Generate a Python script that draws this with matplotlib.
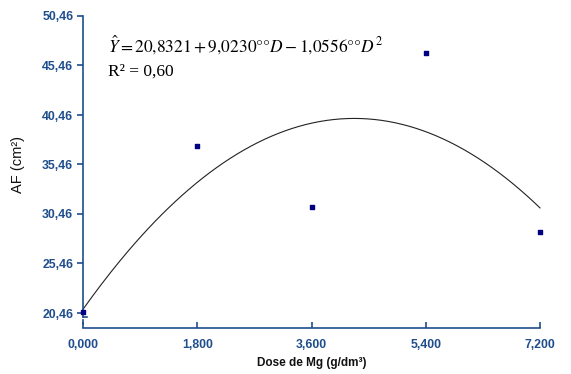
import numpy as np
import matplotlib
matplotlib.use("Agg")
import matplotlib.pyplot as plt

# dados observados
dose = [0.0, 1.8, 3.6, 5.4, 7.2]
af = [20.55, 37.35, 31.15, 46.7, 28.65]

# coeficientes da regressão quadrática
coef = [20.8321, 9.0230, -1.0556]
r2 = 0.60

x_ticks = [0.0, 1.8, 3.6, 5.4, 7.2]
y_ticks = [20.46, 25.46, 30.46, 35.46, 40.46, 45.46, 50.46]

blue = '#1F4E8C'
plt.rcParams['font.family'] = ['Liberation Sans', 'DejaVu Sans']
plt.rcParams['mathtext.fontset'] = 'stix'

fig = plt.figure(figsize=(5.71, 3.74), dpi=100)
ax = fig.add_axes([83 / 571, 61 / 374, 457 / 571, 297 / 374])

# curva ajustada
xx = np.linspace(0, 7.2, 200)
yy = coef[0] + coef[1] * xx + coef[2] * xx ** 2
ax.plot(xx, yy, color='#222222', lw=0.8, clip_on=False)

ax.scatter(dose, af, marker='s', s=7, color='#000080', zorder=3, clip_on=False)

ax.set_xlim(0, 7.2)
ax.set_ylim(20.46, 50.46)
ax.set_xticks(x_ticks)
ax.set_xticklabels([f'{v:.3f}'.replace('.', ',') for v in x_ticks])
ax.set_yticks(y_ticks)
ax.set_yticklabels([f'{v:.2f}'.replace('.', ',') for v in y_ticks])

for s in ['top', 'right']:
    ax.spines[s].set_visible(False)
ax.spines['left'].set_color(blue)
ax.spines['bottom'].set_color(blue)
ax.spines['left'].set_linewidth(1.2)
ax.spines['bottom'].set_linewidth(1.2)
ax.spines['bottom'].set_position(('outward', 11))

ax.tick_params(axis='y', colors=blue, direction='out', length=4, width=1.2, labelsize=8.8, pad=3)
ax.tick_params(axis='x', colors=blue, direction='in', length=4, width=1.2, labelsize=8.8, pad=8)
for lab in ax.get_xticklabels() + ax.get_yticklabels():
    lab.set_fontweight('bold')

# marca de quebra do eixo y
ax.plot([0, 0], [20.46, 20.05], color=blue, lw=1.2, clip_on=False)
ax.plot([0, 0.06], [20.05, 20.05], color=blue, lw=1.2, clip_on=False)
ax.plot([0, 0], [19.75, 19.35], color=blue, lw=1.2, clip_on=False)

ax.set_ylabel('AF (cm²)', fontsize=10.5, color='#111111', labelpad=12)
ax.set_xlabel('Dose de Mg (g/dm³)', fontsize=8.5, fontweight='bold', color='#111111', labelpad=4)

ax.text(0.055, 0.902, r'$\hat{Y} = 20{,}8321 + 9{,}0230°°D - 1{,}0556°°D^2$',
        transform=ax.transAxes, fontsize=12.5, va='center', ha='left')
ax.text(0.055, 0.811, f'R² = {r2:.2f}'.replace('.', ','), transform=ax.transAxes,
        fontsize=12.5, family='Liberation Serif', va='center', ha='left')

fig.savefig('out.png', dpi=100)
